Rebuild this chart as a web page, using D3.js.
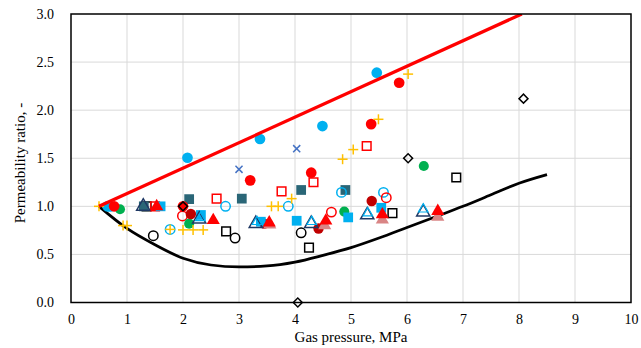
<!DOCTYPE html>
<html>
<head>
<meta charset="utf-8">
<script src="https://cdn.jsdelivr.net/npm/d3@7"></script>
<style>
  body { margin: 0; background: #fff; }
  svg { display: block; }
  .grid line { stroke: #d9d9d9; stroke-width: 1; }
</style>
</head>
<body>
<svg width="641" height="348"></svg>
<script>
const FONT = 'Liberation Serif';
const X_TICKS = [0, 1, 2, 3, 4, 5, 6, 7, 8, 9, 10];
const Y_TICKS = [0, 0.5, 1.0, 1.5, 2.0, 2.5, 3.0];

// upper bound (red) and lower bound (black) curves
const upperLine = [[0.5, 1.0], [8.05, 3.0]];
const lowerCurve = [[0.5, 1.0], [1, 0.77], [1.5, 0.6], [2, 0.46], [2.5, 0.39], [3, 0.37], [3.5, 0.38],
  [4, 0.42], [4.5, 0.49], [5, 0.57], [5.5, 0.67], [6, 0.78], [6.5, 0.89], [7, 1.0], [7.5, 1.12],
  [8, 1.24], [8.5, 1.33]];

// measured series
const blueDots = [[0.65, 1.0], [2.08, 1.505], [3.375, 1.70], [4.49, 1.835], [5.46, 2.39]];
const redDots = [[0.77, 1.0], [2.0, 1.0], [3.2, 1.27], [4.29, 1.35], [5.36, 1.855], [5.86, 2.285]];
const darkRedDots = [[2.14, 0.92], [3.45, 0.82], [4.42, 0.77], [5.37, 1.055]];
const greenDots = [[0.875, 0.97], [2.11, 0.82], [4.88, 0.945], [6.3, 1.42]];
const yellowPlus = [[0.5, 1.0], [0.93, 0.8], [1.0, 0.8], [1.77, 0.76], [2.0, 0.755], [2.18, 0.755],
  [2.36, 0.755], [3.58, 1.0], [3.7, 1.0], [3.94, 1.08], [4.85, 1.49], [5.04, 1.59], [5.49, 1.905], [6.02, 2.375]];
const blueCross = [[3.0, 1.385], [4.03, 1.60]];
const redOpenSquares = [[1.5, 1.0], [2.6, 1.08], [3.76, 1.155], [4.33, 1.25], [5.28, 1.627]];
const tealSquares = [[1.3, 1.0], [2.11, 1.075], [3.05, 1.08], [4.11, 1.17], [4.9, 1.17]];
const blackOpenSquares = [[1.35, 1.0], [2.77, 0.74], [4.25, 0.57], [5.74, 0.93], [6.88, 1.30]];
const blackOpenCircles = [[1.47, 0.695], [2.93, 0.67], [4.11, 0.725]];
const blueOpenCircles = [[0.7, 1.0], [1.77, 0.76], [2.76, 1.0], [3.88, 1.0], [4.83, 1.145], [5.58, 1.145]];
const redOpenCircles = [[1.99, 0.9], [4.65, 0.94], [5.63, 1.09]];
const blueSquares = [[1.6, 1.0], [2.32, 0.91], [3.39, 0.84], [4.03, 0.85], [4.95, 0.885], [5.54, 0.985]];
const navyTriangles = [[1.29, 1.0], [2.29, 0.865], [3.3, 0.82], [4.29, 0.82], [5.29, 0.91], [6.29, 0.94]];
const blueTriangles = [[2.31, 0.88], [3.32, 0.84], [4.3, 0.84], [5.3, 0.93], [6.29, 0.97]];
const pinkTriangles = [[3.55, 0.81], [4.53, 0.80], [5.56, 0.86], [6.55, 0.89]];
const redTriangles = [[1.53, 1.0], [2.54, 0.855], [3.54, 0.83], [4.55, 0.85], [5.56, 0.915], [6.55, 0.95]];
const blackDiamonds = [[2.0, 1.0], [4.05, 0.0], [6.02, 1.5], [8.08, 2.12]];

const margin = { left: 71, right: 10, top: 14, bottom: 45.5 };
const width = 641, height = 348;

const svg = d3.select('svg');
const x = d3.scaleLinear().domain([0, 10]).range([margin.left, width - margin.right]);
const y = d3.scaleLinear().domain([0, 3]).range([height - margin.bottom, margin.top]);

// grid
svg.append('g').attr('class', 'grid')
  .selectAll('line').data(X_TICKS.slice(1, -1)).join('line')
    .attr('x1', d => x(d)).attr('x2', d => x(d))
    .attr('y1', y(0)).attr('y2', y(3));
svg.append('g').attr('class', 'grid')
  .selectAll('line').data(Y_TICKS.slice(1, -1)).join('line')
    .attr('x1', x(0)).attr('x2', x(10))
    .attr('y1', d => y(d)).attr('y2', d => y(d));

// axes (labels only, frame drawn below)
const xAxis = svg.append('g')
  .attr('transform', `translate(0,${y(0)})`)
  .call(d3.axisBottom(x).tickValues(X_TICKS).tickSize(0).tickPadding(12).tickFormat(d3.format('d')));
const yAxis = svg.append('g')
  .attr('transform', `translate(${x(0)},0)`)
  .call(d3.axisLeft(y).tickValues(Y_TICKS).tickSize(0).tickPadding(17).tickFormat(d3.format('.1f')));
[xAxis, yAxis].forEach(a => {
  a.attr('font-family', FONT).attr('font-size', 14);
  a.select('.domain').remove();
  a.selectAll('text').attr('font-family', FONT).attr('fill', '#000');
});

svg.append('text')
  .attr('x', x(5)).attr('y', 342)
  .attr('text-anchor', 'middle').attr('font-size', 15).attr('font-family', FONT)
  .text('Gas pressure, MPa');
svg.append('text')
  .attr('transform', `translate(25,${y(1.45)}) rotate(-90)`)
  .attr('text-anchor', 'middle').attr('font-size', 15).attr('font-family', FONT)
  .text('Permeability ratio, -');

const plot = svg.append('g');
plot.append('clipPath').attr('id', 'clip')
  .append('rect').attr('x', x(0)).attr('y', y(3)).attr('width', x(10) - x(0)).attr('height', y(0) - y(3));

const line = d3.line().x(d => x(d[0])).y(d => y(d[1]));
const curve = d3.line().curve(d3.curveMonotoneX).x(d => x(d[0])).y(d => y(d[1]));

plot.append('path').datum(lowerCurve)
  .attr('d', curve).attr('fill', 'none').attr('stroke', '#000').attr('stroke-width', 2.75);

// markers
function drawSeries(data, type, color, size, filled, opts = {}) {
  const sym = d3.symbol().type(type).size(size);
  plot.append('g').selectAll('path').data(data).join('path')
    .attr('transform', d => `translate(${x(d[0])},${y(d[1])})` + (opts.rotate ? ` rotate(${opts.rotate})` : ''))
    .attr('d', sym)
    .attr('fill', filled ? color : 'none')
    .attr('stroke', filled ? 'none' : color)
    .attr('stroke-width', opts.sw || 1.5);
}

// thin crosses drawn as two strokes
function drawPlus(data, color, half, rotate) {
  const g = plot.append('g');
  data.forEach(d => {
    const t = g.append('g').attr('transform', `translate(${x(d[0])},${y(d[1])}) rotate(${rotate})`);
    t.append('line').attr('x1', -half).attr('x2', half).attr('stroke', color).attr('stroke-width', 1.5);
    t.append('line').attr('y1', -half).attr('y2', half).attr('stroke', color).attr('stroke-width', 1.5);
  });
}

drawSeries(blackOpenCircles, d3.symbolCircle, '#000', 70, false);
drawSeries(blackOpenSquares, d3.symbolSquare, '#000', 75, false);
drawSeries(tealSquares, d3.symbolSquare, '#2a6677', 95, true);
drawSeries(redOpenSquares, d3.symbolSquare, '#ff0000', 75, false);
drawSeries(blueOpenCircles, d3.symbolCircle, '#00b0f0', 70, false);
drawSeries(redOpenCircles, d3.symbolCircle, '#ff0000', 70, false);
drawSeries(greenDots, d3.symbolCircle, '#00b050', 80, true);
drawSeries(darkRedDots, d3.symbolCircle, '#c00000', 85, true);
drawSeries(blueSquares, d3.symbolSquare, '#00b0f0', 95, true);
drawSeries(pinkTriangles, d3.symbolTriangle, '#d98585', 75, true);
drawSeries(navyTriangles, d3.symbolTriangle, '#1f3864', 75, false);
drawSeries(blueTriangles, d3.symbolTriangle, '#00b0f0', 40, false, { sw: 1.2 });
drawSeries(redTriangles, d3.symbolTriangle, '#ff0000', 75, true);
drawSeries(blueDots, d3.symbolCircle, '#00b0f0', 90, true);
drawSeries(redDots, d3.symbolCircle, '#ff0000', 90, true);
drawPlus(blueCross, '#4472c4', 5, 45);
drawPlus(yellowPlus, '#ffc000', 5, 0);
drawSeries(blackDiamonds, d3.symbolSquare, '#000', 40, false, { rotate: 45 });

plot.append('path').datum(upperLine)
  .attr('clip-path', 'url(#clip)')
  .attr('d', line).attr('fill', 'none').attr('stroke', '#ff0000').attr('stroke-width', 3.25);

// frame
svg.append('rect')
  .attr('x', x(0)).attr('y', y(3)).attr('width', x(10) - x(0)).attr('height', y(0) - y(3))
  .attr('fill', 'none').attr('stroke', '#000').attr('stroke-width', 1.5);
</script>
</body>
</html>
